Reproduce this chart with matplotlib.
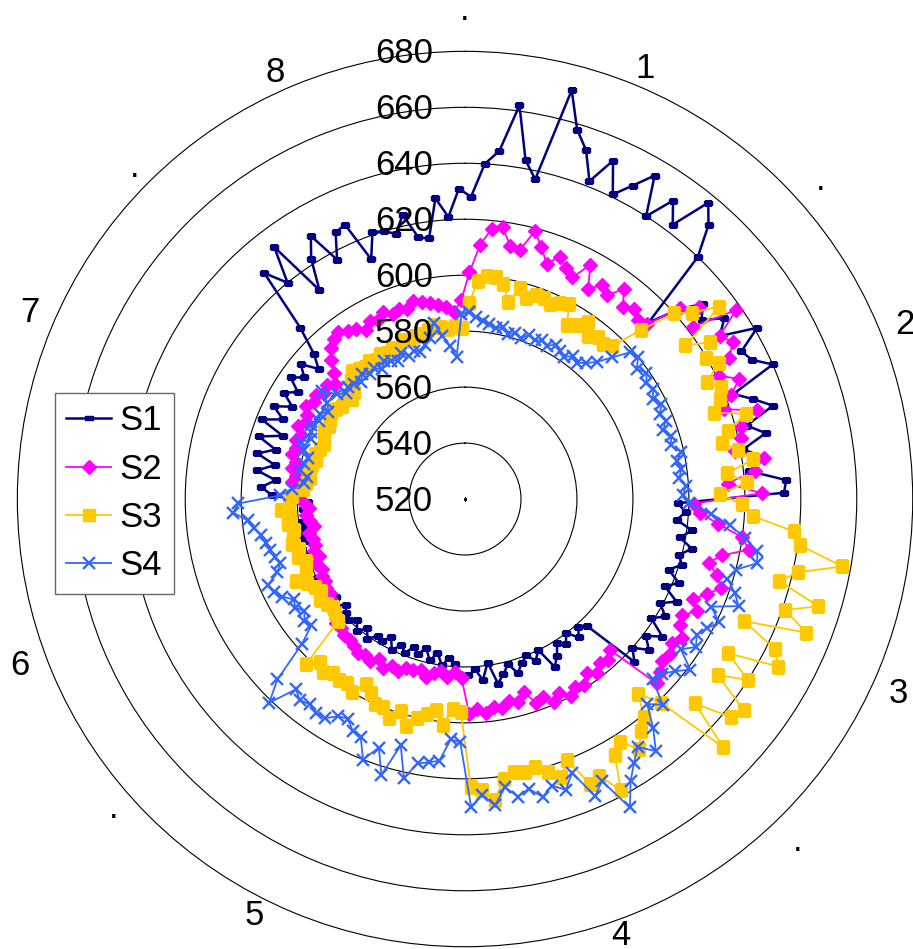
import numpy as np
import matplotlib
matplotlib.use("Agg")
import matplotlib.pyplot as plt
from matplotlib.path import Path
from matplotlib.transforms import offset_copy

plt.rcParams['font.family'] = ['Liberation Sans', 'DejaVu Sans']

series_names = ['S1', 'S2', 'S3', 'S4']
ring_values = [520, 540, 560, 580, 600, 620, 640, 660, 680]

# angular labels that fall inside the picture (angle in degrees, radius in data units)
label_text = ['.', '1', '.', '2', '3', '.', '4', '5', '.', '6', '7', '.', '8']
label_angle = [0, 22.7, 48.1, 68.4, 114.2, 135.8, 160.4, 206.8, 228.7, 249.5, 293.2, 315.1, 336.0]
label_r = [694.6, 686.7, 690.7, 689.2, 689.6, 690.7, 685.7, 686.7, 687.4, 690.0, 689.2, 687.1, 686.7]

# 8 sectors x 20 samples, clockwise from north (one line = one sector)
s1 = [628, 640, 645, 662, 643, 637, 671, 658, 652, 642, 652, 641, 647, 654, 640, 650, 643, 657, 651, 640,
      611, 622, 630, 626, 633, 628, 641, 632, 634, 640, 623, 629, 635, 624, 630, 621, 628, 622, 635, 634,
      596, 599, 596, 602, 598, 603, 599, 601, 597, 602, 598, 604, 599, 603, 599, 606, 601, 605, 600, 604,
      583, 581, 584, 580, 583, 581, 585, 588, 580, 583, 580, 582, 585, 581, 584, 587, 579, 585, 581, 583,
      584, 579, 577, 580, 576, 579, 575, 578, 576, 579, 577, 580, 576, 579, 578, 581, 578, 581, 578, 580,
      579, 577, 580, 578, 581, 579, 582, 580, 583, 581, 582, 580, 581, 579, 580, 578, 579, 577, 578, 576,
      589, 593, 588, 595, 589, 596, 590, 597, 589, 598, 591, 596, 590, 595, 591, 596, 592, 596, 590, 595,
      605, 628, 620, 633, 611, 622, 629, 617, 626, 627, 612, 621, 620, 618, 624, 615, 614, 628, 621, 631]
s2 = [601, 611, 617, 618, 612, 611, 619, 614, 609, 613, 610, 608, 615, 607, 611, 609, 614, 609, 611, 609,
      610, 623, 628, 622, 638, 628, 631, 627, 621, 627, 622, 618, 629, 622, 621, 618, 628, 624, 614, 626,
      602, 604, 611, 620, 623, 614, 610, 614, 617, 613, 609, 612, 608, 609, 612, 610, 612, 611, 613, 615,
      595, 597, 596, 598, 596, 599, 598, 600, 597, 599, 596, 597, 592, 595, 594, 596, 595, 597, 595, 597,
      584, 582, 584, 582, 583, 585, 583, 584, 584, 586, 585, 587, 585, 587, 586, 587, 586, 585, 585, 584,
      584, 582, 581, 580, 579, 579, 578, 578, 577, 578, 576, 577, 576, 576, 577, 575, 576, 577, 576, 578,
      581, 580, 582, 581, 583, 582, 584, 583, 584, 583, 585, 583, 584, 586, 584, 585, 583, 584, 582, 585,
      589, 592, 594, 595, 593, 592, 590, 592, 591, 593, 591, 592, 591, 593, 592, 591, 590, 589, 587, 591]
s3 = [590, 598, 600, 600, 598, 592, 598, 595, 597, 597, 596, 598, 599, 592, 594, 597, 593, 595, 594, 596,
      607, 620, 625, 634, 616, 624, 620, 623, 616, 620, 618, 614, 625, 617, 614, 619, 624, 614, 621, 611,
      619, 623, 638, 641, 657, 642, 636, 652, 641, 651, 629, 643, 647, 629, 640, 630, 645, 643, 630, 648,
      621, 613, 621, 624, 629, 623, 626, 638, 630, 631, 620, 625, 622, 619, 620, 619, 621, 628, 624, 623,
      596, 595, 601, 596, 598, 600, 604, 599, 603, 600, 600, 597, 595, 600, 598, 599, 598, 600, 598, 602,
      583, 582, 581, 582, 583, 581, 582, 584, 587, 582, 581, 583, 582, 584, 583, 582, 584, 583, 586, 583,
      582, 578, 577, 576, 577, 576, 575, 576, 575, 574, 575, 576, 575, 576, 577, 576, 575, 576, 574, 575,
      579, 581, 580, 579, 580, 579, 580, 579, 580, 579, 581, 580, 581, 581, 582, 583, 582, 581, 582, 581]
s4 = [587, 585, 584, 583, 582, 583, 581, 582, 581, 583, 582, 583, 582, 584, 583, 582, 584, 583, 585, 588,
      593, 599, 600, 597, 599, 597, 598, 596, 598, 596, 597, 595, 597, 596, 599, 597, 598, 597, 599, 598,
      600, 608, 615, 621, 626, 627, 620, 618, 622, 625, 616, 621, 618, 616, 618, 614, 621, 617, 614, 613,
      622, 618, 626, 633, 628, 632, 637, 645, 632, 636, 625, 630, 627, 630, 626, 628, 624, 630, 626, 630,
      607, 606, 614, 615, 616, 622, 611, 623, 614, 620, 613, 612, 609, 610, 613, 613, 612, 613, 611, 621,
      613, 598, 591, 592, 590, 592, 591, 594, 596, 597, 592, 590, 591, 592, 593, 594, 596, 598, 603, 601,
      586, 582, 578, 577, 580, 579, 578, 580, 582, 579, 580, 581, 579, 580, 578, 580, 584, 579, 577, 578,
      577, 576, 578, 576, 577, 575, 577, 576, 575, 577, 575, 576, 575, 577, 579, 584, 579, 575, 571, 586]

colors = ['#000080', '#FF00FF', '#FFC800', '#3366FF']

# small flat rectangle marker used for S1
dash = Path([(-1, -0.45), (1, -0.45), (1, 0.45), (-1, 0.45), (-1, -0.45)],
            [Path.MOVETO, Path.LINETO, Path.LINETO, Path.LINETO, Path.CLOSEPOLY])
styles = [dict(marker=dash, ms=5.5, lw=1.8),
          dict(marker='D', ms=7.2, lw=1.3),
          dict(marker='s', ms=9, lw=1.3),
          dict(marker='x', ms=8.5, mew=1.7, lw=1.3)]

n = len(s1)
theta = np.deg2rad(np.arange(n) * 360.0 / n + 180.0 / n)
theta_c = np.append(theta, theta[0] + 2 * np.pi)

fig = plt.figure(figsize=(9.13, 9.49), dpi=100)
ax = fig.add_axes([0.019, 0.0024, 0.9807, 0.9435], projection='polar')
ax.set_theta_zero_location('N')
ax.set_theta_direction(-1)

for name, vals, c, st in zip(series_names, [s1, s2, s3, s4], colors, styles):
    v = np.append(vals, vals[0])
    ax.plot(theta_c, v, color=c, mec=c, mfc=c, label=name, **st)

ax.plot([0], [ring_values[0]], 's', color='k', ms=1.2)

ax.set_ylim(ring_values[0], ring_values[-1])
ax.set_yticks(ring_values[1:-1])
ax.set_yticklabels([])
ax.set_xticks([])
ax.yaxis.grid(True, color='k', lw=0.8, ls='-')
ax.spines['polar'].set_color('k')
ax.spines['polar'].set_linewidth(0.8)

lab_tr = offset_copy(ax.transData, fig=fig, x=-32, y=-2, units='dots')
for v in ring_values:
    ax.text(0, v, str(v), transform=lab_tr, ha='right', va='center', fontsize=25)

for s, a, r in zip(label_text, label_angle, label_r):
    ax.text(np.deg2rad(a), r, s, ha='center', va='center', fontsize=25, clip_on=False)

leg = fig.legend(loc='upper left', bbox_to_anchor=(55 / 913, 1 - 393 / 949),
                 bbox_transform=fig.transFigure, fontsize=25, borderaxespad=0,
                 borderpad=0.33, labelspacing=0.44, handlelength=1.27,
                 handletextpad=0.26, fancybox=False, framealpha=1)
leg.get_frame().set_edgecolor('#666666')
leg.get_frame().set_linewidth(1.0)

fig.savefig('out.png', dpi=100)
